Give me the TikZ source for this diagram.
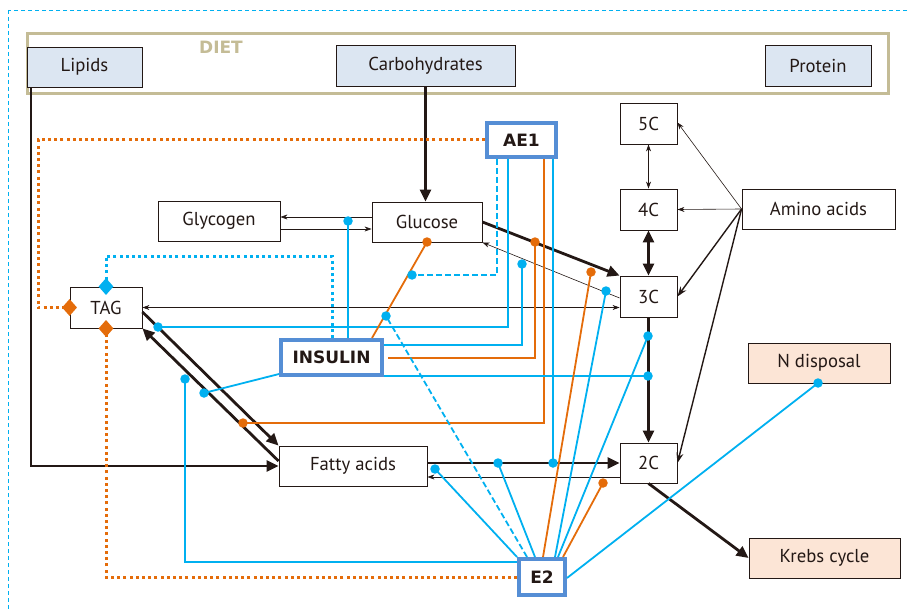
\documentclass[tikz,border=0pt]{standalone}
\usepackage{fontspec}
\setmainfont{PT Sans}
\newfontfamily\hbfont{DejaVu Sans}
\usetikzlibrary{arrows.meta,shapes.geometric}
\definecolor{ink}{RGB}{35,24,21}
\definecolor{cy}{RGB}{0,176,240}
\definecolor{orn}{RGB}{228,108,10}
\definecolor{bbl}{RGB}{85,142,213}
\definecolor{dietc}{RGB}{196,188,150}
\definecolor{lblue}{RGB}{220,230,242}
\definecolor{peach}{RGB}{252,229,214}
\begin{document}
\begin{tikzpicture}[x=1pt,y=-1pt,
  box/.style={draw=ink,line width=0.9pt,text=ink,inner sep=0pt,font=\fontsize{18.7}{22}\selectfont},
  hbox/.style={draw=bbl,line width=4pt,fill=white,text=ink,inner sep=0pt,font=\hbfont\bfseries\fontsize{17}{20}\selectfont},
  thk/.style={draw=ink,line width=2.8pt,-{Triangle[length=12pt,width=11pt]}},
  med/.style={draw=ink,line width=1.4pt,-{Stealth[length=10pt,width=7pt]}},
  thn/.style={draw=ink,line width=0.6pt,-{Stealth[length=7pt,width=5pt]}},
  rc/.style={draw=cy,line width=1.8pt},
  ro/.style={draw=orn,line width=1.8pt},
  dot/.style={circle,inner sep=0pt,minimum size=9.5pt},
  dia/.style={diamond,inner sep=0pt,minimum width=15pt,minimum height=17pt},
  dotted3/.style={line width=3pt,dash pattern=on 3pt off 3.2pt}
]
\useasboundingbox (0,0) rectangle (909,612);
% outer frame
\draw[cy,line width=0.8pt,dash pattern=on 4pt off 3pt] (8,10) rectangle (930,640);
% diet
\node[draw=dietc,line width=2.5pt,minimum width=861pt,minimum height=60pt,inner sep=0pt] (diet) at (458,63.5) {};
\node[text=dietc,font=\hbfont\bfseries\fontsize{17}{20}\selectfont] (dietlbl) at (221,47) {DIET};
% boxes
\node[box,fill=lblue,minimum width=115pt,minimum height=40pt] (lip) at (84.5,67) {Lipids};
\node[box,fill=lblue,minimum width=179pt,minimum height=41pt] (carb) at (425.5,65.5) {Carbohydrates};
\node[box,fill=lblue,minimum width=106pt,minimum height=41pt] (prot) at (818,65.5) {Protein};
\node[box,minimum width=57pt,minimum height=41pt] (c5) at (648.5,123.5) {5C};
\node[box,minimum width=57pt,minimum height=41pt] (c4) at (648.5,209.5) {4C};
\node[box,minimum width=57pt,minimum height=41pt] (c3) at (648.5,296.5) {3C};
\node[box,minimum width=57pt,minimum height=40pt] (c2) at (648.5,463) {2C};
\node[box,minimum width=153pt,minimum height=40pt] (aa) at (818.5,209) {Amino acids};
\node[box,fill=peach,minimum width=142pt,minimum height=40pt] (nd) at (819,363) {N disposal};
\node[box,fill=peach,minimum width=151pt,minimum height=40pt] (kreb) at (824.5,558) {Krebs cycle};
\node[box,minimum width=122pt,minimum height=40pt] (gly) at (219,221) {Glycogen};
\node[box,minimum width=110pt,minimum height=40pt] (glu) at (427,222) {Glucose};
\node[box,minimum width=72pt,minimum height=41pt] (tag) at (106,307.5) {TAG};
\node[box,minimum width=148pt,minimum height=40pt] (fa) at (353,466) {Fatty acids};
% dot coordinates
\coordinate (dA) at (348,221);
\coordinate (dB) at (412,275);
\coordinate (dC) at (158,327);
\coordinate (dD) at (243,423);
\coordinate (dE) at (553,463);
\coordinate (dF) at (427,242);
\coordinate (dG) at (522,264);
\coordinate (dH) at (535,242);
\coordinate (dI) at (648,376);
\coordinate (dJ) at (204,393);
\coordinate (dK) at (435,469);
\coordinate (dL) at (386,316);
\coordinate (dM) at (498,463);
\coordinate (dN) at (591,272);
\coordinate (dO) at (606,291);
\coordinate (dP) at (648,336);
\coordinate (dQ) at (603,483);
\coordinate (dR) at (818,383);
\coordinate (dS) at (185,379);
% metabolic arrows
\draw[thk] ([xshift=-53.5pt]lip.south) |- (fa.west);
\draw[thk] (carb.south) -- (carb.south |- glu.north);
\draw[thk] (glu.east) -- (c3.north west);
\draw[thk] ([yshift=-4.5pt]tag.east) -- (fa.north west);
\draw[thk] ([yshift=5pt]fa.west) -- (tag.south east);
\draw[thk,{Triangle[length=12pt,width=11pt]}-{Triangle[length=12pt,width=11pt]}] (c4.south) -- (c3.north);
\draw[thk] (c3.south) -- (c2.north);
\draw[thk] (fa.east |- c2.west) -- (c2.west);
\draw[thk] (c2.south) -- (kreb.west);
\draw[med] (aa.west) -- (c3.east);
\draw[med] (aa.west) -- (c2.east);
\draw[thn] ([yshift=5pt]glu.west) -- ([yshift=4pt]gly.east);
\draw[thn] ([yshift=-8pt]gly.east) -- ([yshift=-7pt]glu.west);
\draw[thn] ([yshift=-1.5pt]c3.west) -- (glu.south east);
\draw[thn,{Stealth[length=7pt,width=5pt]}-{Stealth[length=7pt,width=5pt]}] (tag.east) -- (c3.west |- tag.east);
\draw[thn] ([yshift=-14pt]c2.west) -- ([yshift=-11pt]fa.east);
\draw[thn,{Stealth[length=7pt,width=5pt]}-{Stealth[length=7pt,width=5pt]}] (c5.south) -- (c4.north);
\draw[thn] (aa.west) -- ([yshift=1pt]c5.east);
\draw[thn] (aa.west) -- (c4.east);
% hormone nodes
\node[hbox,minimum width=69pt,minimum height=34pt] (ae) at (521.5,140) {AE1};
\node[hbox,minimum width=101pt,minimum height=35pt] (ins) at (331.5,357.5) {INSULIN};
\node[hbox,minimum width=46pt,minimum height=36pt] (e2) at (542,577) {E2};
% AE1 lines
\draw[orn,dotted3] (ae.west) -- ++(-447,0) |- (tag.west);
\draw[rc,dash pattern=on 6pt off 3pt] ([xshift=-24.5pt]ae.south) |- (dB);
\draw[rc] ([xshift=-13.5pt]ae.south) |- (dC);
\draw[ro] ([xshift=22.5pt]ae.south) |- (dD);
\draw[rc] ([xshift=31.5pt]ae.south) -- (dE);
% INSULIN lines
\draw[rc] (dA |- ins.north) -- (dA);
\draw[cy,dotted3] ([xshift=0.5pt]ins.north) -- ++(0,-82) -| (tag.north);
\draw[ro] ([xshift=-12pt]ins.north east) -- (dF);
\draw[rc] ([yshift=12.5pt]ins.east) -| (dG);
\draw[ro] ([xshift=4pt,yshift=-0.5pt]ins.east) -| (dH);
\draw[rc] ([yshift=-18.5pt]ins.east) -- (dI);
\draw[rc] ([yshift=3pt]ins.south west) -- (dJ);
% E2 lines
\draw[rc] (e2.north west) -- (dK);
\draw[rc,dash pattern=on 6pt off 3pt] ([xshift=-15pt]e2.north) -- (dL);
\draw[rc] ([xshift=-7pt]e2.north) -- (dM);
\draw[ro] ([xshift=1pt]e2.north) -- (dN);
\draw[rc] ([xshift=13pt]e2.north) -- (dO);
\draw[rc] ([xshift=16pt]e2.north) -- (dP);
\draw[ro] ([xshift=21pt]e2.north) -- (dQ);
\draw[rc] ([yshift=-1pt]e2.east) -- (dR);
\draw[rc] ([yshift=15pt]e2.west) -| (dS);
\draw[orn,dotted3] (e2.west) -| (tag.south);
% dots
\foreach \p in {dA,dB,dC,dE,dG,dI,dJ,dK,dL,dM,dO,dP,dR,dS} \node[dot,fill=cy] (n\p) at (\p) {};
\foreach \p in {dD,dF,dH,dN,dQ} \node[dot,fill=orn] (n\p) at (\p) {};
% diamonds
\node[dia,fill=orn] (dmL) at (tag.west) {};
\node[dia,fill=cy] (dmT) at (tag.north) {};
\node[dia,fill=orn] (dmB) at (tag.south) {};
\end{tikzpicture}
\end{document}
